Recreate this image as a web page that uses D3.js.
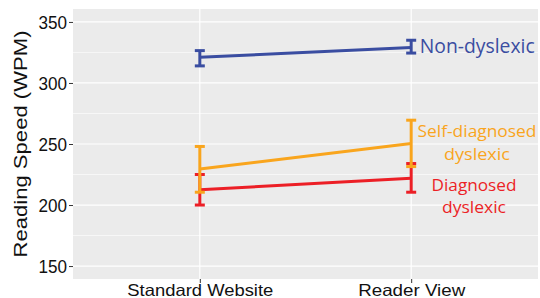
<!DOCTYPE html>
<html>
<head>
<meta charset="utf-8">
<script src="https://cdn.jsdelivr.net/npm/d3@7"></script>
<style>
  body { margin: 0; background: #fff; }
  svg { display: block; }
  .tick text { font-family: 'Liberation Sans', Arial, sans-serif; fill: #111; }
</style>
</head>
<body>
<script>
/* global d3 */
var conditions = ['Standard Website', 'Reader View']
var groups = ['Diagnosed', 'Self-diagnosed', 'Non-dyslexic']
var colors = ['#ec1f26', '#f9a51d', '#3a4da1']

// mean, lower, upper per condition
var diagMean = [212.5, 222]
var diagLow = [200, 210.5]
var diagHigh = [225, 234]
var selfMean = [229.5, 250.5]
var selfLow = [210.5, 231.5]
var selfHigh = [248, 269.5]
var nonMean = [321, 329]
var nonLow = [314, 324.5]
var nonHigh = [326.5, 335]

var yTicks = [150, 200, 250, 300, 350]
var yMinor = [175, 225, 275, 325]

var series = [
  {name: groups[0], color: colors[0], mean: diagMean, low: diagLow, high: diagHigh},
  {name: groups[1], color: colors[1], mean: selfMean, low: selfLow, high: selfHigh},
  {name: groups[2], color: colors[2], mean: nonMean, low: nonLow, high: nonHigh}
]

var margin = {top: 9, right: 2, bottom: 19, left: 73}
var width = 540 - margin.left - margin.right
var height = 298 - margin.top - margin.bottom

var svg = d3.select('body').append('svg')
  .attr('width', 540)
  .attr('height', 298)
  .append('g')
  .attr('transform', 'translate(' + margin.left + ',' + margin.top + ')')

var x = d3.scalePoint()
  .domain(conditions)
  .range([0, width])
  .padding(0.6)

var y = d3.scaleLinear()
  .domain([139.4, 360.6])
  .range([height, 0])

svg.append('rect')
  .attr('width', width)
  .attr('height', height)
  .attr('fill', '#ebebeb')

svg.selectAll('.minor')
  .data(yMinor)
  .enter().append('line')
  .attr('x1', 0).attr('x2', width)
  .attr('y1', function (d) { return y(d) })
  .attr('y2', function (d) { return y(d) })
  .attr('stroke', '#fff')
  .attr('stroke-width', 0.6)

svg.selectAll('.major')
  .data(yTicks)
  .enter().append('line')
  .attr('x1', 0).attr('x2', width)
  .attr('y1', function (d) { return y(d) })
  .attr('y2', function (d) { return y(d) })
  .attr('stroke', '#fff')
  .attr('stroke-width', 1.2)

svg.selectAll('.vgrid')
  .data(conditions)
  .enter().append('line')
  .attr('x1', function (d) { return x(d) })
  .attr('x2', function (d) { return x(d) })
  .attr('y1', 0).attr('y2', height)
  .attr('stroke', '#fff')
  .attr('stroke-width', 1.2)

var yAxis = d3.axisLeft(y).tickValues(yTicks).tickSize(4).tickPadding(2)
var gy = svg.append('g').call(yAxis)
gy.select('.domain').remove()
gy.selectAll('.tick line').attr('stroke', '#333').attr('stroke-width', 1)
gy.selectAll('.tick text')
  .style('font-size', '17.5px')
  .attr('dy', '0.36em')
  .attr('textLength', 28.5)
  .attr('lengthAdjust', 'spacingAndGlyphs')

var xAxis = d3.axisBottom(x).tickSize(4).tickPadding(4)
var gx = svg.append('g')
  .attr('transform', 'translate(0,' + height + ')')
  .call(xAxis)
gx.select('.domain').remove()
gx.selectAll('.tick line').attr('stroke', '#333').attr('stroke-width', 1)
gx.selectAll('.tick text')
  .style('font-size', '16.5px')
  .attr('dy', '0.71em')
  .attr('y', 5)
  .attr('textLength', function (d) { return d === 'Standard Website' ? 146 : 107 })
  .attr('lengthAdjust', 'spacingAndGlyphs')

svg.append('text')
  .attr('transform', 'translate(' + (27 - margin.left) + ',' + (height / 2) + ') rotate(-90)')
  .attr('text-anchor', 'middle')
  .attr('textLength', 227)
  .attr('lengthAdjust', 'spacingAndGlyphs')
  .style('font-family', "'Liberation Sans', Arial, sans-serif")
  .style('font-size', '19px')
  .attr('fill', '#111')
  .text('Reading Speed (WPM)')

var line = d3.line()
  .x(function (d, i) { return x(conditions[i]) })
  .y(function (d) { return y(d) })

var g = svg.selectAll('.series')
  .data(series)
  .enter().append('g')
  .attr('class', 'series')

g.append('path')
  .attr('d', function (d) { return line(d.mean) })
  .attr('fill', 'none')
  .attr('stroke', function (d) { return d.color })
  .attr('stroke-width', 3)

g.each(function (s) {
  var sel = d3.select(this)
  conditions.forEach(function (c, i) {
    var cx = x(c)
    sel.append('line')
      .attr('x1', cx).attr('x2', cx)
      .attr('y1', y(s.low[i])).attr('y2', y(s.high[i]))
      .attr('stroke', s.color).attr('stroke-width', 3)
    ;[s.low[i], s.high[i]].forEach(function (v) {
      sel.append('line')
        .attr('x1', cx - 5).attr('x2', cx + 5)
        .attr('y1', y(v)).attr('y2', y(v))
        .attr('stroke', s.color).attr('stroke-width', 3)
    })
  })
})

// direct labels
var labels = [
  {text: 'Non-dyslexic', color: colors[2], x: 419.7, y: 53.3, anchor: 'start', size: 19.5, len: 115},
  {text: 'Self-diagnosed', color: colors[1], x: 477, y: 136.5, anchor: 'middle', size: 17, len: 119},
  {text: 'dyslexic', color: colors[1], x: 477, y: 159.5, anchor: 'middle', size: 17, len: 66},
  {text: 'Diagnosed', color: colors[0], x: 474, y: 190.5, anchor: 'middle', size: 17, len: 85},
  {text: 'dyslexic', color: colors[0], x: 474, y: 212.5, anchor: 'middle', size: 17, len: 64}
]

svg.selectAll('.lab')
  .data(labels)
  .enter().append('text')
  .attr('class', 'lab')
  .attr('x', function (d) { return d.x - margin.left })
  .attr('y', function (d) { return d.y - margin.top })
  .attr('text-anchor', function (d) { return d.anchor })
  .attr('textLength', function (d) { return d.len })
  .attr('lengthAdjust', 'spacingAndGlyphs')
  .style('font-family', "'Open Sans', 'Noto Sans', sans-serif")
  .style('font-size', function (d) { return d.size + 'px' })
  .attr('fill', function (d) { return d.color })
  .text(function (d) { return d.text })
</script>
</body>
</html>
